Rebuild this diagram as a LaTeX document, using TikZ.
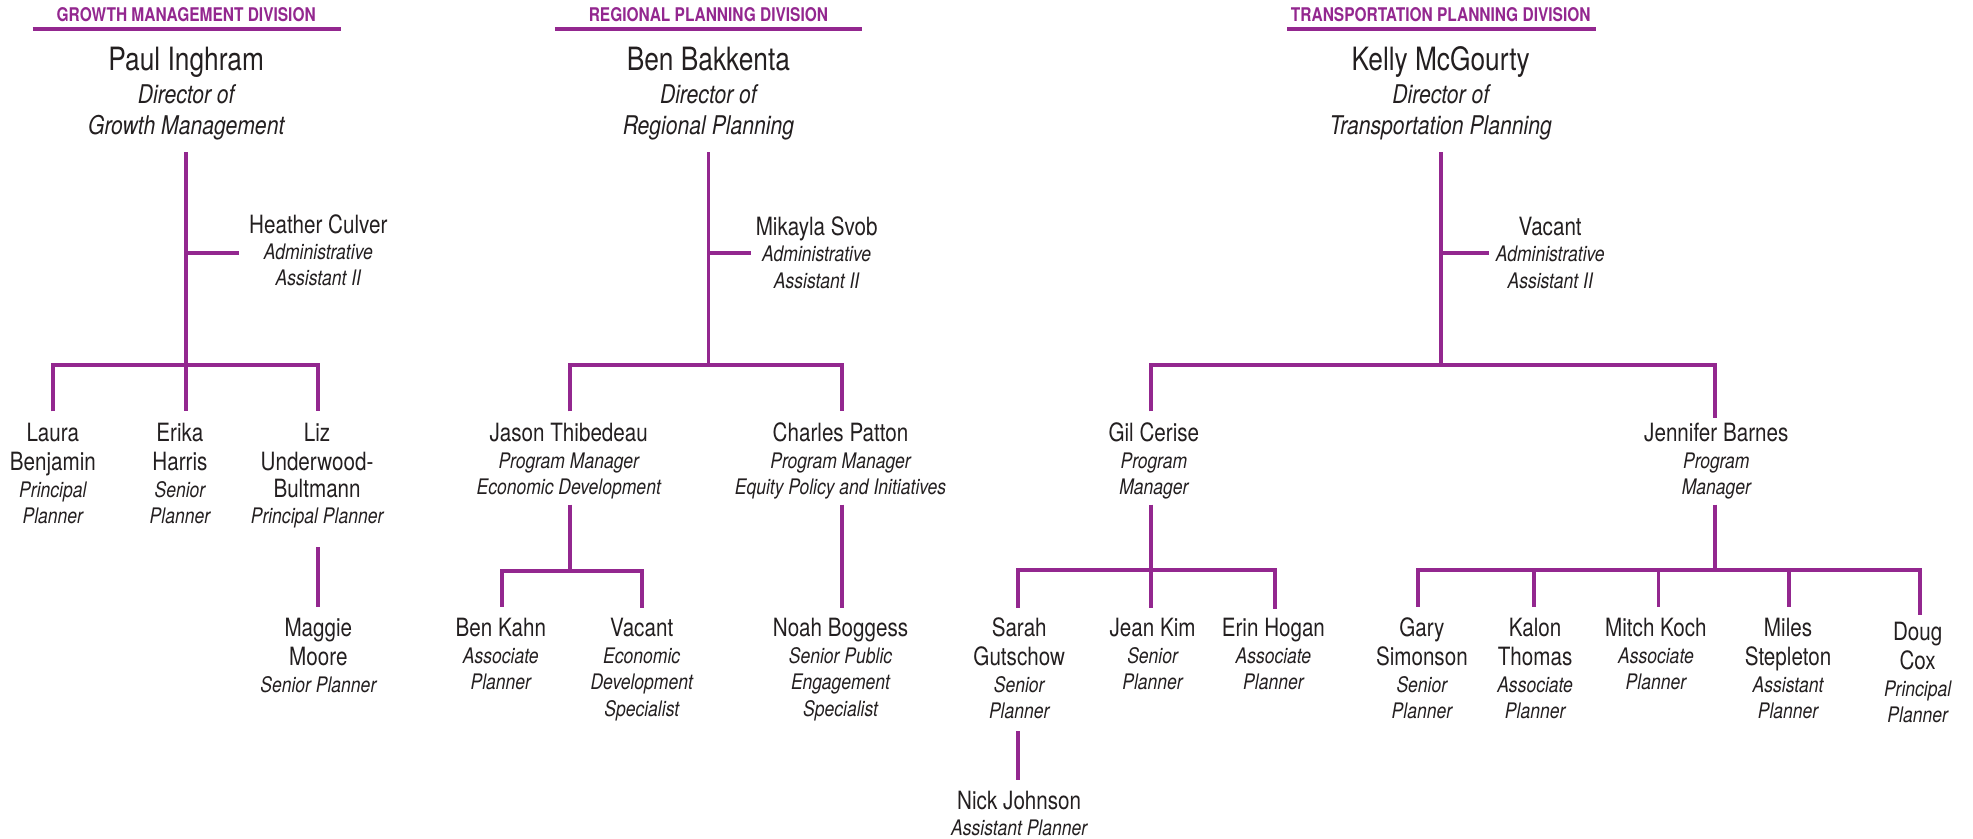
\documentclass[tikz,border=0pt]{standalone}
\usepackage{fontspec}
\setmainfont{TeX Gyre Heros}[FakeStretch=0.82]
\definecolor{pur}{HTML}{93278F}
\definecolor{ink}{HTML}{231F20}
\newcommand\nmf{\fontsize{20}{21}\selectfont\upshape}
\newcommand\tlf{\fontsize{17}{21}\selectfont\itshape}
\newcommand\dnf{\fontsize{25.5}{25}\selectfont\upshape}
\newcommand\dtf{\fontsize{20.5}{25}\selectfont\itshape}
\newcommand\hdf{\fontsize{15}{15}\selectfont\bfseries}
\newcommand\st{\rule{0pt}{16pt}}
\newcommand\dst{\rule{0pt}{20pt}}
\newcommand\ti[1]{{\tlf #1}}
\newcommand\dti[1]{{\dtf #1}}
\tikzset{
  person/.style={anchor=north, align=center, inner sep=0pt, text=ink, font=\nmf},
  director/.style={anchor=north, align=center, inner sep=0pt, text=ink, font=\dnf},
  head/.style={anchor=base, inner sep=0pt, text=pur, font=\hdf},
  link/.style={draw=pur, line width=3pt},
  uline/.style={draw=pur, line width=2.6pt}
}
\begin{document}
\begin{tikzpicture}[x=1pt,y=-1pt]
\useasboundingbox (0,0) rectangle (1568,666);
% ---------- division headings ----------
\node[head] (gmhead) at (148,17) {GROWTH MANAGEMENT DIVISION};
\node[head] (rphead) at (563,17) {REGIONAL PLANNING DIVISION};
\node[head] (tphead) at (1145,17) {TRANSPORTATION PLANNING DIVISION};
\draw[uline] (26,23) -- (271,23);
\draw[uline] (441,23) -- (685,23);
\draw[uline] (1023,23) -- (1268,23);
% ---------- directors ----------
\node[director] (gmdir) at (148,36) {\dst Paul Inghram\\[1pt]\dti{Director of}\\\dti{Growth Management}};
\node[director] (rpdir) at (563,36) {\dst Ben Bakkenta\\[1pt]\dti{Director of}\\\dti{Regional Planning}};
\node[director] (tpdir) at (1145,36) {\dst Kelly McGourty\\[1pt]\dti{Director of}\\\dti{Transportation Planning}};
% ---------- admin ----------
\node[person] (heather) at (253,169) {\st Heather Culver\\\ti{Administrative}\\\ti{Assistant II}};
\node[person] (mikayla) at (649,171) {\st Mikayla Svob\\\ti{Administrative}\\\ti{Assistant II}};
\node[person] (tpadmin) at (1232,171) {\st Vacant\\\ti{Administrative}\\\ti{Assistant II}};
% ---------- growth management staff ----------
\node[person] (laura) at (42,335) {\st Laura\\[2pt]Benjamin\\\ti{Principal}\\\ti{Planner}};
\node[person] (erika) at (143,335) {\st Erika\\[2pt]Harris\\\ti{Senior}\\\ti{Planner}};
\node[person] (liz) at (252,335) {\st Liz\\[2pt]Underwood-\\Bultmann\\\ti{Principal Planner}};
\node[person] (maggie) at (253,490) {\st Maggie\\[2pt]Moore\\\ti{Senior Planner}};
% ---------- regional planning staff ----------
\node[person] (jason) at (452,335) {\st Jason Thibedeau\\\ti{Program Manager}\\\ti{Economic Development}};
\node[person] (charles) at (668,335) {\st Charles Patton\\\ti{Program Manager}\\\ti{Equity Policy and Initiatives}};
\node[person] (benkahn) at (398,490) {\st Ben Kahn\\\ti{Associate}\\\ti{Planner}};
\node[person] (rpvacant) at (510,490) {\st Vacant\\\ti{Economic}\\\ti{Development}\\\ti{Specialist}};
\node[person] (noah) at (668,490) {\st Noah Boggess\\\ti{Senior Public}\\\ti{Engagement}\\\ti{Specialist}};
% ---------- transportation planning staff ----------
\node[person] (gil) at (917,335) {\st Gil Cerise\\\ti{Program}\\\ti{Manager}};
\node[person] (jennifer) at (1364,335) {\st Jennifer Barnes\\\ti{Program}\\\ti{Manager}};
\node[person] (sarah) at (810,490) {\st Sarah\\[2pt]Gutschow\\\ti{Senior}\\\ti{Planner}};
\node[person] (jean) at (916,490) {\st Jean Kim\\\ti{Senior}\\\ti{Planner}};
\node[person] (erin) at (1012,490) {\st Erin Hogan\\\ti{Associate}\\\ti{Planner}};
\node[person] (nick) at (810,627) {\st Nick Johnson\\\ti{Assistant Planner}};
\node[person] (gary) at (1130,490) {\st Gary\\[2pt]Simonson\\\ti{Senior}\\\ti{Planner}};
\node[person] (kalon) at (1220,490) {\st Kalon\\[2pt]Thomas\\\ti{Associate}\\\ti{Planner}};
\node[person] (mitch) at (1316,490) {\st Mitch Koch\\\ti{Associate}\\\ti{Planner}};
\node[person] (miles) at (1421,490) {\st Miles\\[2pt]Stepleton\\\ti{Assistant}\\\ti{Planner}};
\node[person] (doug) at (1524,493) {\st Doug\\[2pt]Cox\\\ti{Principal}\\\ti{Planner}};
% ---------- junction coordinates ----------
\coordinate (gmtop) at (148,121);
\coordinate (gmadm) at (148,201);
\coordinate (gmbar) at (148,290);
\coordinate (rptop) at (563,121);
\coordinate (rpadm) at (563,201);
\coordinate (rpbar) at (563,290);
\coordinate (tptop) at (1145,121);
\coordinate (tpadm) at (1145,201);
\coordinate (tpbar) at (1145,290);
% ---------- growth management connectors ----------
\draw[link] (gmtop) -- (gmbar);
\draw[link] (gmadm) -- (190,201) coordinate (heatherin);
\draw[link] (42,327) coordinate (laurain) -- (42,290) -- (253,290) -- (253,327) coordinate (lizin);
\draw[link] (gmbar) -- (148,327) coordinate (erikain);
\draw[link] (253,435) coordinate (lizout) -- (253,482) coordinate (maggiein);
% ---------- regional planning connectors ----------
\draw[link] (rptop) -- (rpbar);
\draw[link] (rpadm) -- (597,201) coordinate (mikaylain);
\draw[link] (453,327) coordinate (jasonin) -- (453,290) -- (669,290) -- (669,327) coordinate (charlesin);
\draw[link] (453,401) coordinate (jasonout) -- (453,454) coordinate (jbar);
\draw[link] (399,482) coordinate (benin) -- (399,454) -- (510,454) -- (510,483) coordinate (rpvacin);
\draw[link] (669,401) coordinate (charlesout) -- (669,483) coordinate (noahin);
% ---------- transportation planning connectors ----------
\draw[link] (tptop) -- (tpbar);
\draw[link] (tpadm) -- (1183,201) coordinate (tpadmin-in);
\draw[link] (915,327) coordinate (gilin) -- (915,290) -- (1363,290) -- (1363,332) coordinate (jenin);
\draw[link] (915,401) coordinate (gilout) -- (915,453) coordinate (gbar);
\draw[link] (809,483) coordinate (sarahin) -- (809,453) -- (1013,453) -- (1013,484) coordinate (erinin);
\draw[link] (gbar) -- (915,483) coordinate (jeanin);
\draw[link] (809,581) coordinate (sarahout) -- (809,620) coordinate (nickin);
\draw[link] (1363,401) coordinate (jenout) -- (1363,453) coordinate (jbbar);
\draw[link] (1127,482) coordinate (garyin) -- (1127,453) -- (1526,453) -- (1526,489) coordinate (dougin);
\draw[link] (1219,453) -- (1219,482) coordinate (kalonin);
\draw[link] (1318,453) -- (1318,482) coordinate (mitchin);
\draw[link] (1422,453) -- (1422,482) coordinate (milesin);
\end{tikzpicture}
\end{document}
